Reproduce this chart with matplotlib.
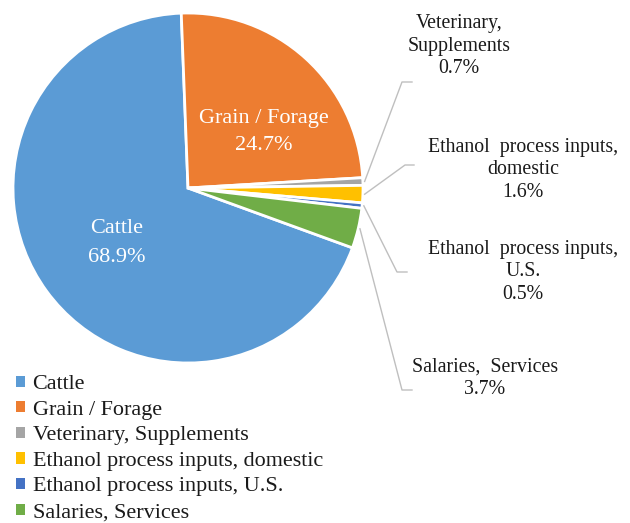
import matplotlib
matplotlib.use("Agg")
import matplotlib.pyplot as plt
import numpy as np

# data
categories = ["Cattle", "Grain / Forage", "Veterinary, Supplements",
              "Ethanol process inputs, domestic", "Ethanol process inputs, U.S.",
              "Salaries, Services"]
shares = [68.9, 24.7, 0.7, 1.6, 0.5, 3.7]
colors = ["#5B9BD5", "#ED7D31", "#A5A5A5", "#FFC000", "#4472C4", "#70AD47"]

# labels drawn outside the pie (index, text, position in px from top-left)
outside = [
    (2, "Veterinary,\nSupplements\n{:.1f}%", (459, 46), (402, 82), (412, 82)),
    (3, "Ethanol  process inputs,\ndomestic\n{:.1f}%", (523, 170), (405, 165), (414, 165)),
    (4, "Ethanol  process inputs,\nU.S.\n{:.1f}%", (523, 272), (397, 272), (407, 272)),
    (5, "Salaries,  Services\n{:.1f}%", (485, 378), (402, 390), (412, 390)),
]

W, H = 630, 523
plt.rcParams['font.family'] = ['Liberation Serif', 'DejaVu Serif']

fig = plt.figure(figsize=(W / 100, H / 100), dpi=100)
ax = fig.add_axes([0, 0, 1, 1])

cx, cy, R = 188, H - 188, 175
start = -20
wedges, _ = ax.pie(shares, colors=colors, startangle=start, counterclock=False,
                   center=(cx, cy), radius=R, frame=True,
                   wedgeprops=dict(edgecolor='white', linewidth=2))
ax.set_xlim(0, W)
ax.set_ylim(0, H)
ax.set_aspect('equal')
ax.axis('off')

# inside labels
ax.text(117, H - 243, "{}\n{:.1f}%".format(categories[0], shares[0]), color='white',
        fontsize=16, ha='center', va='center', linespacing=1.68)
ax.text(264, H - 132, "{}\n{:.1f}%".format(categories[1], shares[1]), color='white',
        fontsize=16, ha='center', va='center', linespacing=1.52)

# outside labels with leader lines
for i, txt, pos, elbow, end in outside:
    w = wedges[i]
    mid = np.deg2rad((w.theta1 + w.theta2) / 2)
    sx, sy = cx + R * 1.01 * np.cos(mid), cy + R * 1.01 * np.sin(mid)
    ax.plot([sx, elbow[0], end[0]], [sy, H - elbow[1], H - end[1]],
            color='#BFBFBF', lw=1)
    ax.text(pos[0], H - pos[1], txt.format(shares[i]), fontsize=14.3,
            ha='center', va='center', linespacing=1.25, color='#1a1a1a')

leg = fig.legend(wedges, categories, loc='upper left', bbox_to_anchor=(16 / W, 1 - 375 / H),
                 frameon=False, fontsize=15.9, handlelength=0.4, handleheight=0.4,
                 handletextpad=0.35, labelspacing=0.30, borderpad=0, borderaxespad=0)
for h in leg.legend_handles:
    h.set_edgecolor('none')
for t in leg.get_texts():
    t.set_color('#1a1a1a')

plt.savefig("out.png", dpi=100)
